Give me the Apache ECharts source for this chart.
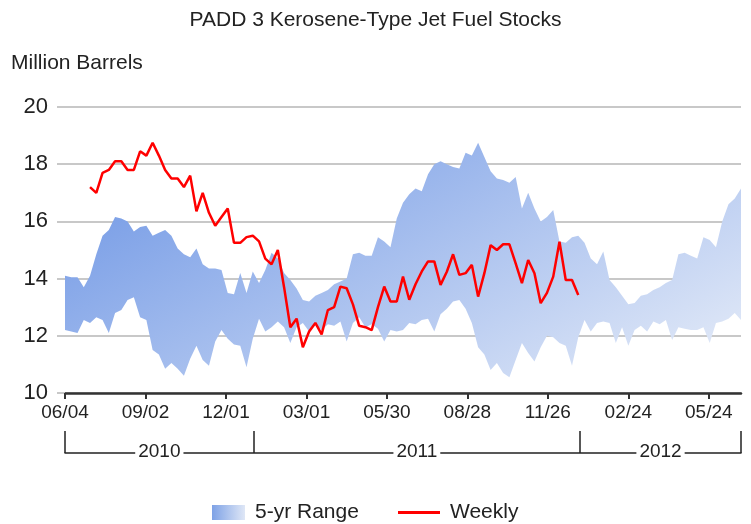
<!DOCTYPE html>
<html>
<head>
<meta charset="utf-8">
<title>PADD 3 Kerosene-Type Jet Fuel Stocks</title>
<script src="https://cdn.jsdelivr.net/npm/echarts@6/dist/echarts.min.js"></script>
<style>
    html, body { margin: 0; padding: 0; background: #fff; }
    #chart { width: 751px; height: 524px; }
</style>
</head>
<body>
<div id="chart"></div>
<script>
    // weekly points, first one is the week ending 06/04/2010
    const startDay = Date.UTC(2010, 5, 4);
    const DAY = 86400000;

    // 5-yr range, one value per week
    const rangeHigh = [
        14.1, 14.05, 14.05, 13.7, 14.1, 14.85, 15.5, 15.7, 16.15, 16.1,
        16.0, 15.65, 15.8, 15.85, 15.5, 15.6, 15.7, 15.5, 15.05, 14.85,
        14.75, 15.05, 14.5, 14.35, 14.35, 14.3, 13.5, 13.45, 14.2, 13.5,
        14.25, 13.85, 14.3, 14.9, 14.7, 14.2, 13.95, 13.65, 13.25, 13.2,
        13.4, 13.5, 13.6, 13.8, 13.9, 14.0, 14.85, 14.9, 14.8, 14.8,
        15.45, 15.3, 15.1, 16.1, 16.65, 16.95, 17.15, 17.05, 17.65, 18.0,
        18.1, 18.0, 17.9, 17.85, 18.4, 18.3, 18.75, 18.25, 17.75, 17.5,
        17.45, 17.35, 17.55, 16.45, 17.0, 16.45, 16.0, 16.15, 16.4, 15.3,
        15.25, 15.45, 15.5, 15.25, 14.7, 14.5, 14.95, 13.95, 13.7, 13.4,
        13.1, 13.15, 13.4, 13.45, 13.6, 13.7, 13.85, 13.95, 14.85, 14.9,
        14.8, 14.7, 15.45, 15.35, 15.1, 16.0, 16.6, 16.8, 17.15
    ];
    const rangeLow = [
        12.2, 12.15, 12.1, 12.55, 12.45, 12.65, 12.55, 12.1, 12.8, 12.9,
        13.25, 13.35, 12.65, 12.55, 11.5, 11.35, 10.85, 11.05, 10.85, 10.6,
        11.2, 11.65, 11.15, 10.95, 11.8, 12.2, 11.9, 11.7, 11.65, 10.9,
        11.9, 12.6, 12.15, 12.3, 12.5, 12.3, 11.75, 12.3, 12.45, 12.15,
        12.4, 12.2, 12.4, 12.35, 12.5, 11.8, 12.45, 12.65, 12.3, 12.4,
        12.25, 11.8, 12.2, 12.15, 12.2, 12.45, 12.4, 12.55, 12.6, 12.15,
        12.75, 12.95, 13.2, 13.25, 12.95, 12.45, 11.6, 11.35, 10.8, 11.05,
        10.7, 10.55, 11.15, 11.75, 11.4, 11.1, 11.6, 12.0, 11.95, 11.75,
        11.65, 10.95, 11.95, 12.55, 12.15, 12.45, 12.5, 12.45, 11.75, 12.3,
        11.65, 12.2, 12.35, 12.15, 12.5, 12.4, 12.55, 11.85, 12.3, 12.25,
        12.2, 12.2, 12.3, 11.75, 12.45, 12.5, 12.6, 12.8, 12.55
    ];

    // weekly stocks, starts 4 weeks after the range
    const weeklyOffset = 4;
    const weekly = [
        17.2, 17.0, 17.7, 17.8, 18.1, 18.1, 17.8, 17.8, 18.45, 18.3,
        18.75, 18.3, 17.8, 17.5, 17.5, 17.2, 17.6, 16.35, 17.0, 16.3,
        15.85, 16.15, 16.45, 15.25, 15.25, 15.45, 15.5, 15.3, 14.7, 14.5,
        15.0, 13.7, 12.3, 12.6, 11.6, 12.15, 12.45, 12.05, 12.9, 13.0,
        13.72, 13.66, 13.1, 12.35, 12.3, 12.2, 13.0, 13.72, 13.2, 13.2,
        14.07, 13.26, 13.8, 14.25, 14.6, 14.6, 13.78, 14.24, 14.85, 14.13,
        14.19, 14.48, 13.37, 14.19, 15.17, 15.0, 15.2, 15.2, 14.53, 13.84,
        14.65, 14.19, 13.14, 13.5, 14.07, 15.29, 13.95, 13.95, 13.43
    ];

    const tickDays = [0, 90, 180, 270, 360, 450, 540, 630, 720];
    const yearLabels = ['2010', '2011', '2012'];

    const lastDay = (rangeHigh.length - 1) * 7;
    const yearBounds = [0,
        (Date.UTC(2011, 0, 1) - startDay) / DAY,
        (Date.UTC(2012, 0, 1) - startDay) / DAY,
        lastDay];
    const yearMids = yearLabels.map((y, i) => (yearBounds[i] + yearBounds[i + 1]) / 2);

    function dayLabel(v) {
        const d = new Date(startDay + v * DAY);
        const mm = String(d.getUTCMonth() + 1).padStart(2, '0');
        const dd = String(d.getUTCDate()).padStart(2, '0');
        return mm + '/' + dd;
    }

    const bandFill = new echarts.graphic.LinearGradient(0, 0, 0.37, 1.94, [
        { offset: 0, color: '#6a93e4' },
        { offset: 1, color: '#e4ebf8' }
    ]);
    const legendFill = new echarts.graphic.LinearGradient(0, 0, 1, 0, [
        { offset: 0, color: '#7ea2e6' },
        { offset: 1, color: '#dfe7f6' }
    ]);

    const textColor = '#222';
    const gridColor = '#c8c8c8';

    const option = {
        animation: false,
        backgroundColor: '#fff',
        textStyle: { fontFamily: 'Liberation Sans, Arial, sans-serif' },
        title: [
            {
                text: 'PADD 3 Kerosene-Type Jet Fuel Stocks',
                left: 'center',
                top: 5,
                textStyle: { fontSize: 21, fontWeight: 'normal', color: textColor }
            },
            {
                text: 'Million Barrels',
                left: 6,
                top: 48,
                textStyle: { fontSize: 21, fontWeight: 'normal', color: textColor }
            }
        ],
        legend: [
            {
                left: 212,
                top: 502,
                padding: 0,
                itemWidth: 33,
                itemHeight: 15,
                textStyle: { fontSize: 21, color: textColor, padding: [0, 0, 0, 5] },
                data: [{ name: '5-yr Range', icon: 'rect', itemStyle: { color: legendFill } }]
            },
            {
                left: 398,
                top: 502,
                padding: 0,
                itemWidth: 42,
                itemHeight: 15,
                textStyle: { fontSize: 21, color: textColor, padding: [0, 0, 0, 5] },
                data: [{ name: 'Weekly', icon: 'path://M0,0H40V3H0Z', itemStyle: { color: '#ff0000' } }]
            }
        ],
        grid: { left: 65, right: 10, top: 107, bottom: 131 },
        xAxis: [
            {
                type: 'value',
                min: 0,
                max: lastDay,
                axisLine: { lineStyle: { color: '#333', width: 2.5 } },
                axisTick: { length: 6, customValues: tickDays, lineStyle: { color: '#333', width: 2 } },
                axisLabel: {
                    customValues: tickDays,
                    formatter: dayLabel,
                    margin: 10,
                    fontSize: 19,
                    color: textColor
                },
                splitLine: { show: false }
            },
            {
                type: 'value',
                position: 'bottom',
                offset: 60,
                min: 0,
                max: lastDay,
                axisLine: { lineStyle: { color: '#222', width: 1.5 } },
                axisTick: { inside: true, length: 22, customValues: yearBounds, lineStyle: { color: '#222', width: 1.5 } },
                axisLabel: {
                    customValues: yearMids,
                    formatter: function (v) {
                        for (let i = 0; i < yearLabels.length; i++) {
                            if (v >= yearBounds[i] && v <= yearBounds[i + 1]) return yearLabels[i];
                        }
                        return '';
                    },
                    margin: -11,
                    fontSize: 19,
                    color: textColor,
                    backgroundColor: '#fff',
                    padding: [0, 3]
                },
                splitLine: { show: false }
            }
        ],
        yAxis: {
            type: 'value',
            min: 10,
            max: 20,
            interval: 2,
            axisLine: { show: false },
            axisTick: { show: true, length: 8, lineStyle: { color: gridColor, width: 2 } },
            axisLabel: { fontSize: 22, margin: 17, color: textColor },
            splitLine: { lineStyle: { color: gridColor, width: 2 } }
        },
        series: [
            {
                name: '5-yr Range',
                type: 'custom',
                xAxisIndex: 0,
                itemStyle: { color: legendFill },
                encode: { x: 0, y: [1, 2] },
                data: rangeHigh.map((v, i) => [i * 7, rangeLow[i], v]),
                renderItem: function (params, api) {
                    if (params.dataIndex !== 0) return null;
                    const pts = [];
                    for (let i = 0; i < rangeHigh.length; i++) pts.push(api.coord([i * 7, rangeHigh[i]]));
                    for (let i = rangeLow.length - 1; i >= 0; i--) pts.push(api.coord([i * 7, rangeLow[i]]));
                    return {
                        type: 'polygon',
                        shape: { points: pts },
                        style: { fill: bandFill },
                        silent: true
                    };
                }
            },
            {
                name: 'Weekly',
                type: 'line',
                xAxisIndex: 0,
                symbol: 'none',
                z: 3,
                itemStyle: { color: '#ff0000' },
                lineStyle: { color: '#ff0000', width: 2.5 },
                data: weekly.map((v, i) => [(i + weeklyOffset) * 7, v])
            }
        ]
    };

    const mychart = echarts.init(document.getElementById('chart'));
    mychart.setOption(option);
</script>
</body>
</html>
